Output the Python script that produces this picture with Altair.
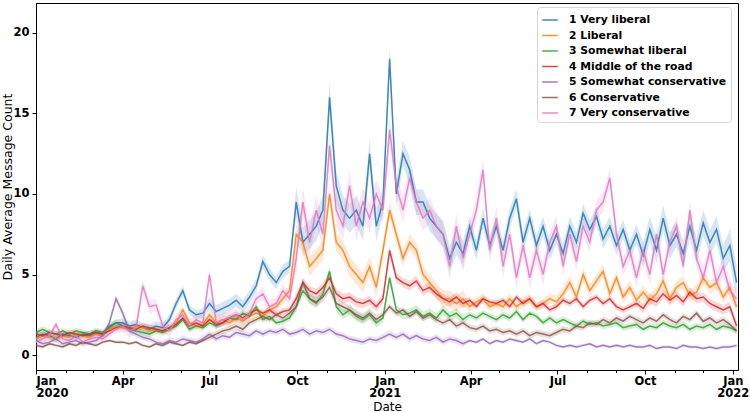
import altair as alt
import pandas as pd

# Weekly readings (starting 2020-01-01, every 7 days)
start = "2020-01-01"
n_weeks = 106

s1 = [1.1, 1.3, 1.2, 1.0, 1.3, 1.2, 1.1, 1.3, 1.2, 1.4, 1.3, 1.8, 2.0,
      2.0, 1.8, 1.9, 1.7, 1.6, 1.8, 1.7, 2.2,
      3.2, 4.0, 2.8, 2.5, 2.6, 3.2, 2.7, 2.9, 3.1, 3.4, 3.0, 3.6, 4.3,
      5.8, 5.0, 4.5, 5.2, 5.5,
      9.5, 7.0, 7.5, 8.0, 9.0, 16.0, 10.5, 9.0, 8.5, 9.0, 8.0, 12.5, 8.0, 9.5,
      18.4, 10.0, 12.5, 11.5, 9.5, 9.5, 8.5, 8.0,
      7.5, 6.0, 7.0, 6.3, 8.0, 6.5, 8.5, 6.8, 8.0, 6.5, 8.5, 9.7, 7.0,
      8.5, 6.8, 8.0, 6.5, 7.5, 6.3, 8.0, 7.0, 8.8, 7.8, 8.6, 7.2, 8.0,
      6.8, 7.8, 6.5, 7.5, 6.2, 7.8, 6.5, 8.5, 6.8, 7.5, 6.3, 8.0, 6.5,
      8.2, 7.0, 7.8, 6.0, 6.8, 4.5]

s2 = [1.0, 1.2, 1.1, 1.0, 1.2, 1.1, 1.3, 1.2, 1.1, 1.3, 1.2, 1.6, 1.8,
      1.7, 1.6, 1.8, 1.7, 1.5, 1.6, 1.5, 1.7,
      2.0, 2.8, 2.0, 1.8, 1.9, 2.5, 2.0, 2.2, 2.0, 2.3, 2.1, 2.4, 2.6,
      2.4, 2.8, 3.0, 3.5, 4.0,
      7.5, 7.0, 5.5, 6.0, 6.5, 10.0, 7.0, 6.5, 5.5, 5.0, 4.5, 5.5, 4.2, 6.5,
      9.0, 7.5, 6.0, 7.0, 6.5, 5.0, 4.5, 4.0, 3.5, 3.5, 3.2, 3.5, 3.0,
      3.3, 3.5, 3.0, 3.2, 3.0, 3.5, 3.0, 3.3, 3.5, 3.0, 3.2, 3.5, 3.3,
      3.8, 4.5, 3.6, 5.0, 4.0, 4.6, 5.2, 3.8, 4.8, 3.6, 4.2, 3.4, 3.9,
      3.4, 3.8, 4.6, 3.5, 4.2, 4.5, 3.7, 3.9, 4.8, 4.2, 4.5, 3.6, 4.2, 3.0]

s3 = [1.4, 1.6, 1.4, 1.3, 1.5, 1.3, 1.5, 1.4, 1.3, 1.5, 1.4, 1.7, 2.0,
      1.8, 1.6, 1.5, 1.4, 1.3, 1.5, 1.4, 1.6,
      1.8, 2.2, 1.6, 1.8, 1.7, 2.0, 1.8, 2.0, 2.3, 2.2, 2.6, 2.4, 3.0,
      2.2, 2.4, 2.0, 2.1, 2.3,
      3.0, 4.0, 3.5, 3.2, 3.8, 5.2, 3.0, 2.5, 2.8, 2.4, 2.2, 2.5, 2.0, 2.3,
      4.8, 2.8, 2.5, 2.6, 2.8, 2.4, 2.6, 2.3, 2.8, 2.4, 2.6, 2.2, 2.5,
      2.3, 2.6, 2.4, 2.2, 2.5, 2.3, 2.7, 2.2, 2.6, 2.4, 2.0, 2.3, 2.0,
      2.2, 2.0, 1.8, 2.1, 1.9, 2.0, 1.8, 1.9, 2.0, 1.7, 1.8, 1.9, 1.6,
      1.8, 1.7, 2.0, 1.8, 1.7, 1.9, 1.6, 1.8, 1.7, 1.9, 1.6, 1.8, 1.7, 1.5]

s4 = [1.3, 1.2, 1.4, 1.3, 1.2, 1.4, 1.3, 1.2, 1.3, 1.4, 1.3, 1.5, 1.7,
      1.8, 1.7, 1.6, 1.8, 1.7, 1.6, 1.5, 1.7,
      1.9, 2.3, 1.8, 2.0, 1.8, 2.2, 1.9, 2.0, 2.3, 2.5, 2.3, 2.6, 2.8,
      2.6, 2.8, 2.5, 2.7, 2.8,
      3.5, 4.5, 4.0, 3.8, 4.2, 4.8, 3.8, 3.5, 3.6, 3.3, 3.2, 3.4, 3.0, 3.5,
      6.5, 4.8, 4.5, 4.3, 4.6, 4.0, 4.2, 3.8, 3.5, 3.3, 3.6, 3.2, 3.4,
      3.0, 3.5, 3.3, 3.2, 3.4, 3.0, 3.6, 3.2, 3.5, 3.0, 3.2, 2.8, 3.0,
      3.4, 3.2, 3.5, 3.0, 3.4, 3.6, 3.2, 3.5, 3.0, 2.8, 3.0, 3.2, 2.9,
      3.5, 3.3, 3.8, 3.4, 3.7, 3.3, 3.9, 3.5, 3.6, 3.2, 3.0, 2.8, 3.0, 1.8]

s5 = [0.9, 0.7, 0.8, 1.0, 0.7, 0.8, 0.9, 0.7, 0.8, 0.9, 1.2, 2.0, 3.5,
      2.6, 1.5, 1.3, 1.1, 1.0, 0.8, 0.7, 0.9,
      0.8, 1.0, 0.9, 0.8, 1.0, 1.3, 1.0, 1.2, 1.1, 1.4, 1.3, 1.2, 1.5,
      1.3, 1.5, 1.4, 1.6, 1.3,
      1.4, 1.6, 1.3, 1.5, 1.4, 1.6, 1.3, 1.2, 1.0, 0.9, 0.8, 1.0, 0.9, 1.1,
      1.3, 1.1, 1.3, 1.0, 1.2, 1.0, 0.9, 1.1, 0.8, 1.0, 0.9, 0.7, 0.9,
      0.8, 1.0, 0.7, 0.9, 0.8, 1.0, 0.9, 0.8, 1.0, 0.7, 0.9, 0.8, 0.6,
      0.5, 0.6, 0.5, 0.6, 0.7, 0.5, 0.6, 0.5, 0.6, 0.5, 0.6, 0.5, 0.5,
      0.6, 0.4, 0.5, 0.5, 0.4, 0.6, 0.5, 0.5, 0.4, 0.5, 0.4, 0.5, 0.5, 0.6]

s6 = [0.6, 0.5, 0.7, 0.6, 0.5, 0.7, 0.6, 0.8, 0.7, 0.6, 0.8, 0.9, 0.8,
      0.8, 0.7, 0.8, 0.6, 0.5, 0.7, 0.6, 0.8,
      0.7, 0.6, 0.8, 0.7, 0.9, 1.1, 1.3, 1.5, 1.6, 1.8, 1.6, 2.0, 2.2,
      2.4, 2.2, 2.5, 2.3, 2.6,
      3.0, 4.5, 3.5, 3.3, 3.6, 4.2, 3.2, 3.0, 2.8, 2.5, 2.3, 2.6, 2.2, 2.5,
      3.0, 2.6, 2.8, 2.4, 2.7, 2.3, 2.5, 2.2, 2.0, 2.2, 1.8, 2.0, 1.7,
      1.6, 1.8, 1.5, 1.6, 1.4, 1.5, 1.3, 1.5, 1.2, 1.4, 1.3, 1.2, 1.4,
      1.6, 1.5, 1.8, 1.7, 2.0, 1.9, 2.2, 2.0, 2.3, 2.1, 2.4, 2.2, 2.0,
      2.3, 2.1, 2.5, 2.2, 2.0, 2.4, 2.2, 2.6, 2.1, 2.3, 2.0, 2.2, 1.9, 1.5]

s7 = [0.8, 1.0, 1.2, 1.9, 1.0, 0.9, 1.2, 0.8, 1.0, 1.1, 1.0, 1.3, 1.6,
      1.8, 1.5, 1.7, 4.3, 3.0, 3.1, 1.8, 1.5,
      2.2, 2.5, 1.8, 2.2, 2.0, 5.0, 2.0, 2.2, 2.3, 2.5, 2.2, 2.6, 3.5,
      3.8, 3.0, 3.2, 4.0, 3.5,
      6.0, 9.5, 7.0, 9.0, 7.5, 13.0, 9.0, 8.0, 10.5, 8.0, 9.5, 8.5, 10.0, 9.0,
      14.0, 10.5, 9.0, 11.0, 9.5, 8.5, 9.0, 8.0,
      7.5, 5.5, 8.0, 6.0, 7.5, 9.0, 11.5, 6.5, 8.5, 5.5, 7.5, 4.8, 6.8,
      4.8, 6.5, 5.0, 7.0, 8.0, 5.5, 7.5, 5.8, 8.0, 7.0, 9.0, 9.5, 11.0,
      7.5, 5.5, 6.5, 4.8, 6.5, 5.0, 7.5, 5.0, 7.0, 8.0, 5.5, 9.0, 6.0,
      4.8, 6.5, 4.5, 5.5, 4.0, 3.5]

# Approximate half-width of the shaded confidence band, per quarter (9 quarters)
b1 = [0.2, 0.3, 0.4, 0.9, 0.8, 0.6, 0.6, 0.8, 1.0]
b2 = [0.2, 0.2, 0.3, 0.6, 0.5, 0.3, 0.4, 0.4, 0.4]
b3 = [0.2, 0.2, 0.2, 0.3, 0.3, 0.2, 0.2, 0.2, 0.2]
b4 = [0.2, 0.2, 0.2, 0.3, 0.3, 0.2, 0.2, 0.3, 0.3]
b5 = [0.2, 0.2, 0.2, 0.2, 0.2, 0.1, 0.1, 0.1, 0.1]
b6 = [0.1, 0.1, 0.2, 0.3, 0.2, 0.2, 0.2, 0.2, 0.2]
b7 = [0.2, 0.4, 0.4, 0.9, 0.8, 0.7, 0.6, 0.6, 0.6]

names = ["1 Very liberal", "2 Liberal", "3 Somewhat liberal", "4 Middle of the road",
         "5 Somewhat conservative", "6 Conservative", "7 Very conservative"]
colors = ["#1f77b4", "#ff7f0e", "#2ca02c", "#d62728", "#9467bd", "#8c564b", "#e377c2"]
series = [s1, s2, s3, s4, s5, s6, s7]
bands = [b1, b2, b3, b4, b5, b6, b7]

dates = pd.date_range(start, periods=n_weeks, freq="7D")
rows = []
for k, (nm, vals, bw) in enumerate(zip(names, series, bands)):
    for i, (d, v) in enumerate(zip(dates, vals)):
        h = bw[min(i // 13, 8)]
        rows.append({"date": d.strftime("%Y-%m-%dT00:00:00"), "series": nm, "order": k,
                     "value": v, "lo": v - h, "hi": v + h})
df = pd.DataFrame(rows)

major = [alt.DateTime(year=y, month=m, date=1) for y, m in
         [(2020, 1), (2020, 4), (2020, 7), (2020, 10), (2021, 1), (2021, 4),
          (2021, 7), (2021, 10), (2022, 1)]]
minor = [alt.DateTime(year=d.year, month=d.month, date=1)
         for d in pd.date_range("2020-01-01", "2022-01-01", freq="MS")]

xdom = [alt.DateTime(year=2020, month=1, date=1),
        alt.DateTime(year=2022, month=1, date=6, hours=12)]
xscale = alt.Scale(domain=xdom)
yscale = alt.Scale(domain=[-0.93, 21.86], nice=False)
cscale = alt.Scale(domain=names, range=colors)

y_axis = alt.Axis(values=[0, 5, 10, 15, 20], title="Daily Average Message Count",
                  grid=False, tickSize=4, labelFontWeight="bold", labelFontSize=11.5,
                  labelPadding=3, titleFontSize=12.5, titleFontWeight="normal",
                  titleX=-22, titleY=183.5)
legend = alt.Legend(title=None, orient="none", legendX=501, legendY=4,
                    symbolType="stroke", symbolSize=245, symbolStrokeWidth=1.5,
                    symbolOpacity=0.85, labelLimit=400,
                    labelFontSize=10.8, labelFontWeight="bold", labelColor="black",
                    rowPadding=1.5, labelOffset=10, padding=4,
                    strokeColor="#d5d5d5", fillColor="white", cornerRadius=3)

base = alt.Chart(df)

band = base.mark_area(opacity=0.18).encode(
    x=alt.X("date:T", scale=xscale, axis=None),
    y=alt.Y("lo:Q", scale=yscale, axis=y_axis),
    y2="hi:Q",
    color=alt.Color("series:N", scale=cscale, legend=legend),
    detail="series:N",
)

lines = base.mark_line(strokeWidth=1.5, opacity=0.85).encode(
    x=alt.X("date:T", scale=xscale,
            axis=alt.Axis(values=major, title="Date", grid=False, tickSize=4,
                          labelExpr="[timeFormat(datum.value, '%b'), timeFormat(datum.value, '%m') == '01' ? timeFormat(datum.value, '%Y') : '']",
                          labelFontWeight="bold", labelFontSize=11.5, labelPadding=1,
                          labelLineHeight=12.5,
                          titleFontSize=12, titleFontWeight="normal",
                          titleY=40, titleBaseline="alphabetic")),
    y=alt.Y("value:Q", scale=yscale, axis=y_axis),
    color=alt.Color("series:N", scale=cscale, legend=legend),
    order=alt.Order("order:Q"),
)

ticks_minor = base.mark_point(opacity=0).encode(
    x=alt.X("date:T", scale=xscale,
            axis=alt.Axis(orient="bottom", values=minor, labels=False, tickSize=2.5,
                          domain=False, grid=False, title=None)),
)

chart = alt.layer(band, lines, ticks_minor).resolve_axis(x="independent").properties(
    width=702, height=367,
    autosize=alt.AutoSizeParams(type="none"),
    padding={"left": 36, "top": 3, "right": 12, "bottom": 42},
).configure_view(stroke="black", strokeWidth=1).configure_axis(
    domainColor="black", tickColor="black", labelColor="black", titleColor="black",
    labelFont="DejaVu Sans", titleFont="DejaVu Sans", domainWidth=1,
).configure_legend(labelFont="DejaVu Sans")

chart.save("out.html", embed_options={"renderer": "svg", "actions": False})
